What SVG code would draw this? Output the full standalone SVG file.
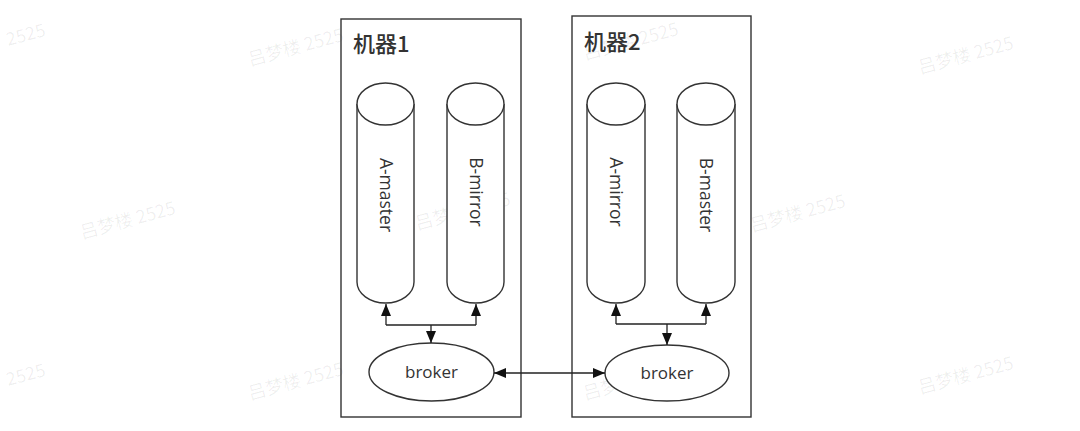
<svg xmlns="http://www.w3.org/2000/svg" width="1080" height="431" viewBox="0 0 1080 431">
<defs>
<style>
.box{fill:none;stroke:#333;stroke-width:1.4}
.shape{fill:#fff;stroke:#333;stroke-width:1.4}
.line{fill:none;stroke:#222;stroke-width:1.3}
.title{font-family:"Noto Sans CJK SC","Noto Sans",sans-serif;font-size:22px;font-weight:500;fill:#333}
.lbl{font-family:"Open Sans","Noto Sans",sans-serif;font-size:17.5px;fill:#333}
.bk{font-size:17px}
.wm{font-family:"Noto Sans CJK SC","Noto Sans",sans-serif;font-size:18px;fill:#000;fill-opacity:0.065}
</style>
<marker id="ah" viewBox="0 0 12 10" refX="12" refY="5" markerWidth="12" markerHeight="10" markerUnits="userSpaceOnUse" orient="auto">
<path d="M0,0 L12,5 L0,10 z" fill="#111"/>
</marker>
<marker id="ahs" viewBox="0 0 12 10" refX="0" refY="5" markerWidth="12" markerHeight="10" markerUnits="userSpaceOnUse" orient="auto">
<path d="M12,0 L0,5 L12,10 z" fill="#111"/>
</marker>
</defs>
<rect width="1080" height="431" fill="#fff"/>

<g id="watermarks">
<text class="wm" transform="translate(8,46) rotate(-15)">2525</text>
<text class="wm" transform="translate(250,66) rotate(-15)">吕梦楼 2525</text>
<text class="wm" transform="translate(585,60) rotate(-15)">吕梦楼 2525</text>
<text class="wm" transform="translate(920,74) rotate(-15)">吕梦楼 2525</text>
<text class="wm" transform="translate(82,239) rotate(-15)">吕梦楼 2525</text>
<text class="wm" transform="translate(417,230) rotate(-15)">吕梦楼 2525</text>
<text class="wm" transform="translate(752,232) rotate(-15)">吕梦楼 2525</text>
<text class="wm" transform="translate(8,386) rotate(-15)">2525</text>
<text class="wm" transform="translate(250,400) rotate(-15)">吕梦楼 2525</text>
<text class="wm" transform="translate(585,400) rotate(-15)">吕梦楼 2525</text>
<text class="wm" transform="translate(920,394) rotate(-15)">吕梦楼 2525</text>
</g>

<g id="machine1">
<rect class="box" x="341" y="19" width="180" height="398"/>
<text class="title" x="353" y="52">机器1</text>
</g>
<g id="machine2">
<rect class="box" x="572" y="16" width="179" height="401"/>
<text class="title" x="584" y="50">机器2</text>
</g>

<g id="a-master">
<path class="shape" d="M357,104 L357,282 A28.5,21 0 0 0 414,282 L414,104"/>
<ellipse class="shape" cx="385.5" cy="104" rx="28.5" ry="21"/>
<text class="lbl" transform="translate(385.5,195) rotate(90)" text-anchor="middle" dy="6">A-master</text>
</g>
<g id="b-mirror">
<path class="shape" d="M447,104 L447,282 A28.5,21 0 0 0 504,282 L504,104"/>
<ellipse class="shape" cx="475.5" cy="104" rx="28.5" ry="21"/>
<text class="lbl" transform="translate(475.5,192) rotate(90)" text-anchor="middle" dy="6">B-mirror</text>
</g>
<g id="a-mirror">
<path class="shape" d="M587,104 L587,282 A29,21 0 0 0 645,282 L645,104"/>
<ellipse class="shape" cx="616" cy="104" rx="29" ry="21"/>
<text class="lbl" transform="translate(616,192) rotate(90)" text-anchor="middle" dy="6">A-mirror</text>
</g>
<g id="b-master">
<path class="shape" d="M677,104 L677,282 A29,21 0 0 0 735,282 L735,104"/>
<ellipse class="shape" cx="706" cy="104" rx="29" ry="21"/>
<text class="lbl" transform="translate(706,195) rotate(90)" text-anchor="middle" dy="6">B-master</text>
</g>
<g id="broker1">
<ellipse class="shape" cx="431.5" cy="372" rx="62.5" ry="29"/>
<text class="lbl bk" x="431.5" y="378" text-anchor="middle">broker</text>
</g>
<g id="broker2">
<ellipse class="shape" cx="667" cy="373" rx="62" ry="28"/>
<text class="lbl bk" x="667" y="379" text-anchor="middle">broker</text>
</g>

<g id="connectors">
<path class="line" d="M386,325 L386,304" marker-end="url(#ah)"/>
<path class="line" d="M476,325 L476,304" marker-end="url(#ah)"/>
<path class="line" d="M386,325 L476,325"/>
<path class="line" d="M431,325 L431,343" marker-end="url(#ah)"/>
<path class="line" d="M616,324 L616,304" marker-end="url(#ah)"/>
<path class="line" d="M706,324 L706,304" marker-end="url(#ah)"/>
<path class="line" d="M616,324 L706,324"/>
<path class="line" d="M667,324 L667,345" marker-end="url(#ah)"/>
<path class="line" d="M494,373 L605,373" marker-start="url(#ahs)" marker-end="url(#ah)"/>
</g>
</svg>
